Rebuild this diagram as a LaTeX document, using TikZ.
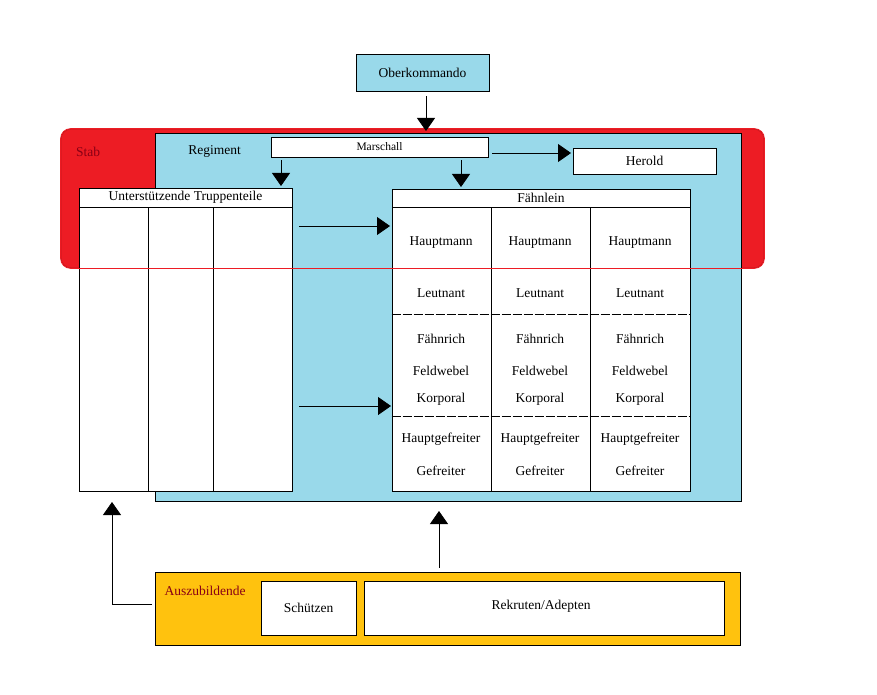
\documentclass[tikz,border=0pt]{standalone}
\usepackage{fontspec}
\setmainfont{Liberation Serif}
\usetikzlibrary{arrows.meta}
\definecolor{lblue}{HTML}{99D9EA}
\definecolor{stabred}{HTML}{ED1C24}
\definecolor{gold}{HTML}{FFC20E}
\definecolor{dred}{HTML}{880015}
\begin{document}
\begin{tikzpicture}[x=1pt,y=-1pt,
  box/.style={draw=black,line width=0.8pt,fill=white,inner sep=0pt,font=\fontsize{13.5}{16}\selectfont},
  txt/.style={inner sep=0pt,font=\fontsize{13.5}{16}\selectfont},
  arr/.style={line width=0.8pt,-{Triangle[width=18pt,length=13pt]}},
  dsh/.style={line width=0.8pt,dash pattern=on 9pt off 2pt}]
\useasboundingbox[fill=white] (0,0) rectangle (877,695);
% backgrounds
\node[fill=stabred,draw=stabred!80!black,line width=0.8pt,rounded corners=10pt,minimum width=703pt,minimum height=139pt,inner sep=0pt] (stab) at (412.5,198.5) {};
\node[fill=lblue,draw=black,line width=0.8pt,minimum width=586pt,minimum height=368pt,inner sep=0pt] (regiment) at (448,317) {};
\node[txt,text=dred,anchor=west] (stablbl) at (76,152) {Stab};
\node[txt] (reglbl) at (214.5,151) {Regiment};
% top boxes
\node[box,fill=lblue,minimum width=133pt,minimum height=37pt] (ober) at (422.5,72.5) {Oberkommando};
\node[box,minimum width=217pt,minimum height=20pt,font=\fontsize{11.5}{13}\selectfont] (marschall) at (379.5,147) {Marschall};
\node[box,minimum width=143pt,minimum height=26pt] (herold) at (644.5,161) {Herold};
% Unterstuetzende Truppenteile
\node[box,minimum width=213pt,minimum height=19pt] (uhead) at (185.5,197.5) {Unterstützende Truppenteile};
\node[box,minimum width=69pt,minimum height=284pt] (ucol1) at (113.5,349) {};
\node[box,minimum width=65pt,minimum height=284pt] (ucol2) at (180.5,349) {};
\node[box,minimum width=79pt,minimum height=284pt] (ucol3) at (252.5,349) {};
% Faehnlein
\node[box,minimum width=298pt,minimum height=18pt] (fhead) at (541,198) {Fähnlein};
\node[box,minimum width=99pt,minimum height=284pt] (fcol1) at (441.5,349) {};
\node[box,minimum width=99pt,minimum height=284pt] (fcol2) at (540.5,349) {};
\node[box,minimum width=100pt,minimum height=284pt] (fcol3) at (640,349) {};
\draw[dsh] (fcol1.west |- 0,314) -- (fcol3.east |- 0,314);
\draw[dsh] (fcol1.west |- 0,416) -- (fcol3.east |- 0,416);
\foreach \c/\x in {1/441,2/540,3/640}{
  \node[txt] (hm\c) at (\x,243) {Hauptmann};
  \node[txt] (lt\c) at (\x,293) {Leutnant};
  \node[txt] (fr\c) at (\x,339) {Fähnrich};
  \node[txt] (fw\c) at (\x,371) {Feldwebel};
  \node[txt] (kp\c) at (\x,399) {Korporal};
  \node[txt] (hg\c) at (\x,439) {Hauptgefreiter};
  \node[txt] (gf\c) at (\x,471) {Gefreiter};
}
% Auszubildende
\node[box,fill=gold,minimum width=585pt,minimum height=73pt] (ausz) at (447.5,608.5) {};
\node[txt,text=dred] (auszlbl) at (205,591) {Auszubildende};
\node[box,minimum width=95pt,minimum height=54pt] (schuetzen) at (308.5,608) {Schützen};
\node[box,minimum width=360pt,minimum height=54pt] (rekruten) at (544,608) {};
\node[txt] (reklbl) at (541,606) {Rekruten/Adepten};
% red outline on top
\draw[stabred,line width=0.8pt,rounded corners=10pt] (stab.north west) rectangle (stab.south east);
% connectors
\coordinate (obtip) at (426,131);
\draw[arr,shorten <=5pt] (ober.south -| obtip) -- (obtip);
\coordinate (m1) at (281,186);
\coordinate (m2) at (461,187);
\draw[arr,shorten <=3pt] (marschall.south -| m1) -- (m1);
\draw[arr,shorten <=3pt] (marschall.south -| m2) -- (m2);
\coordinate (hs) at (492,153);
\coordinate (he) at (571,153);
\draw[arr] (hs) -- (he);
\coordinate (a1s) at (299,226);
\coordinate (a1e) at (390,226);
\coordinate (a2s) at (299,406);
\coordinate (a2e) at (391,406);
\draw[arr] (a1s) -- (a1e);
\draw[arr] (a2s) -- (a2e);
\coordinate (up1) at (439,511);
\draw[arr,shorten <=4pt] (ausz.north -| up1) -- (up1);
\coordinate (el1) at (152,604);
\coordinate (el2) at (112,502);
\draw[arr] (el1) -- (el1 -| el2) -- (el2);
\end{tikzpicture}
\end{document}
